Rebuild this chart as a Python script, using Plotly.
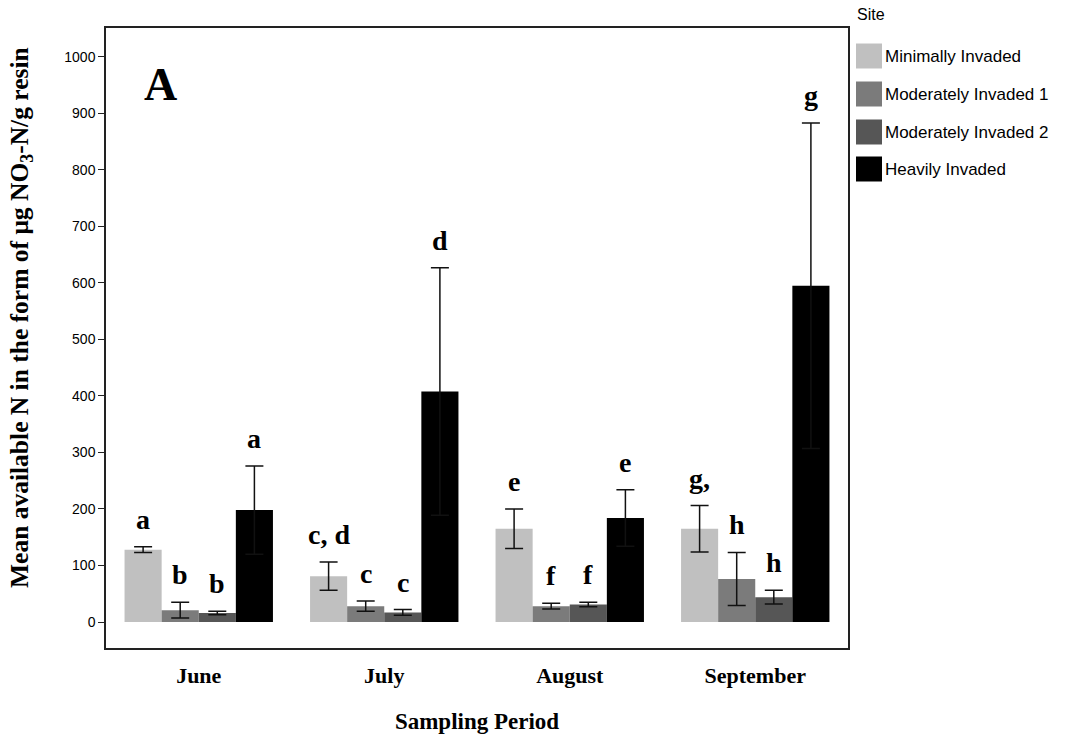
import plotly.graph_objects as go

months = ["June", "July", "August", "September"]
sites = ["Minimally Invaded", "Moderately Invaded 1", "Moderately Invaded 2", "Heavily Invaded"]
colors = ["#c0c0c0", "#7b7b7b", "#565656", "#000000"]

minimal = [128, 81, 165, 165]
moderate1 = [21, 28, 28, 76]
moderate2 = [16, 17, 31, 44]
heavy = [198, 408, 184, 595]

minimal_err = [5, 25, 35, 41]
moderate1_err = [14, 9, 5, 47]
moderate2_err = [3, 5, 4, 12]
heavy_err = [78, 219, 50, 288]

minimal_lbl = ["a", "c, d", "e", "g,"]
moderate1_lbl = ["b", "c", "f", "h"]
moderate2_lbl = ["b", "c", "f", "h"]
heavy_lbl = ["a", "d", "e", "g"]

values = [minimal, moderate1, moderate2, heavy]
errors = [minimal_err, moderate1_err, moderate2_err, heavy_err]
labels = [minimal_lbl, moderate1_lbl, moderate2_lbl, heavy_lbl]

W, H = 1075, 742
ML, MR, MT, MB = 106, 227, 28, 94
PW, PH = W - ML - MR, H - MT - MB

fig = go.Figure()
for i, s in enumerate(sites):
    fig.add_trace(go.Bar(
        x=months, y=values[i], name=s, marker=dict(color=colors[i], line=dict(width=0)),
        error_y=dict(type="data", array=errors[i], symmetric=True, color="#111111",
                     thickness=1.5, width=9),
        showlegend=False,
    ))

offsets = [-0.3, -0.1, 0.1, 0.3]
for i in range(4):
    for j in range(4):
        fig.add_annotation(
            x=j + offsets[i], y=values[i][j] + errors[i][j], xref="x", yref="y",
            text="<b>" + labels[i][j] + "</b>", showarrow=False, yanchor="bottom",
            xanchor="center", yshift=10,
            font=dict(family="Liberation Serif", size=28, color="black"),
        )


def px_x(px):
    return (px - ML) / PW


def px_y(py):
    return (H - MB - py) / PH


fig.add_annotation(x=px_x(160), y=px_y(84), xref="paper", yref="paper",
                   text="<b>A</b>", showarrow=False, xanchor="center", yanchor="middle",
                   font=dict(family="Liberation Serif", size=46, color="black"))

# Y axis title (placed as rotated text, slightly above the plot centre as in the reference)
fig.add_annotation(x=px_x(21), y=px_y(318), xref="paper", yref="paper",
                   text="<b>Mean available N in the form of μg NO<sub>3</sub>-N/g resin</b>",
                   showarrow=False, textangle=-90, xanchor="center", yanchor="middle",
                   font=dict(family="Liberation Serif", size=25.5, color="black"))

# Legend drawn as shapes + text (matches large swatches of the reference)
fig.add_annotation(x=px_x(855), y=px_y(15), xref="paper", yref="paper", text="Site",
                   showarrow=False, xanchor="left", yanchor="middle",
                   font=dict(family="Liberation Sans", size=16, color="black"))
swatch_centers = [56, 94, 132, 169]
for i, s in enumerate(sites):
    cy = swatch_centers[i]
    fig.add_shape(type="rect", xref="paper", yref="paper",
                  x0=px_x(856), x1=px_x(882), y0=px_y(cy - 12.5), y1=px_y(cy + 12.5),
                  fillcolor=colors[i], line=dict(width=0))
    fig.add_annotation(x=px_x(883), y=px_y(cy), xref="paper", yref="paper", text=s,
                       showarrow=False, xanchor="left", yanchor="middle",
                       font=dict(family="Liberation Sans", size=17, color="black"))

fig.update_layout(
    width=W, height=H,
    margin=dict(l=ML, r=MR, t=MT, b=MB, autoexpand=False),
    barmode="group", bargap=0.2, bargroupgap=0,
    plot_bgcolor="white", paper_bgcolor="white",
    font=dict(family="Liberation Sans", size=14, color="black"),
    showlegend=False,
    xaxis=dict(
        title=dict(text="<b>Sampling Period</b>", font=dict(family="Liberation Serif", size=23), standoff=26),
        tickfont=dict(family="Liberation Serif", size=22), ticktext=["<b>" + m + "</b>" for m in months],
        tickvals=months, showline=True, mirror=True, linecolor="#222", linewidth=1.5,
        ticks="outside", ticklen=7, tickcolor="rgba(0,0,0,0)", range=[-0.5, 3.5], automargin=False,
    ),
    yaxis=dict(
        range=[-46, 1051], tickvals=list(range(0, 1001, 100)), ticks="outside", ticklen=6,
        tickcolor="#222", showline=True, mirror=True, linecolor="#222", linewidth=1.5,
        showgrid=False, zeroline=False, tickfont=dict(size=14), automargin=False,
    ),
)

fig.write_html("out.html", config={"displayModeBar": False},
               post_script="document.body.style.margin='0px';")
